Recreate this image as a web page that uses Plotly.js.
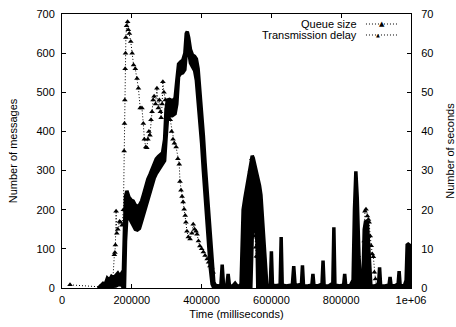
<!DOCTYPE html>
<html>
<head>
<meta charset="utf-8">
<script src="https://cdn.plot.ly/plotly-3.0.1.min.js"></script>
<style>html,body{margin:0;padding:0;background:#fff}#chart{width:456px;height:327px}</style>
</head>
<body>
<div id="chart"></div>
<script>
// X tick labels
const xTickVals = [0, 200000, 400000, 600000, 800000, 1000000];
const xTickText = ['0', '200000', '400000', '600000', '800000', '1e+06'];

// Queue size (messages): time (ms), lower and upper envelope of the dense band
const qT = [105000,112000,118000,124000,130000,136000,142000,148000,154000,160000,166000,171000,176000,179000,182000,186000,192000,198000,204000,210000,216000,222000,228000,234000,240000,246000,252000,258000,264000,270000,276000,282000,288000,294000,298000,302000,308000,316000,324000,329000,334000,340000,346000,352000,356000,359000,363000,368000,374000,380000,385000,390000,395000,400000,405000,410000,415000,420000,425000,430000,435000,440000,446000,455000,459000,463000,472000,476000,480000,490000,496000,502000,509000,513000,516000,519000,524000,530000,536000,541000,545000,548000,552000,556000,559000,561000,566000,570000,576000,582000,587000,592000,597000,600000,603000,612000,620000,625000,628000,631000,642000,652000,660000,664000,668000,680000,686000,689000,692000,705000,713000,716000,719000,722000,735000,742000,745000,748000,751000,764000,773000,776000,779000,782000,795000,804000,807000,810000,813000,826000,834000,838000,842000,846000,851000,856000,862000,866000,870000,875000,880000,885000,895000,903000,907000,910000,913000,926000,934000,937000,940000,943000,955000,960000,963000,966000,969000,981000,986000,989000,992000,995000,1000000];
const qLo = [0,0,0,0,3,3,5,5,5,8,8,8,0,0,120,185,180,170,160,150,148,152,170,188,205,228,245,262,280,292,300,305,315,325,380,430,440,440,445,470,540,548,550,558,600,630,605,575,565,555,530,480,430,370,300,230,170,100,50,10,0,0,0,0,0,0,0,0,0,0,0,0,0,0,0,0,0,0,0,0,130,155,160,150,110,0,0,0,0,0,0,0,0,0,0,0,0,0,0,0,0,0,0,0,0,0,0,0,0,0,0,0,0,0,0,0,0,0,0,0,0,0,0,0,0,0,0,0,0,0,0,0,0,0,0,0,0,0,0,0,0,0,0,0,0,0,0,0,0,0,0,0,0,0,0,0,0,0,0,0,0,0,0,0,0,0];
const qHi = [0,8,12,10,25,20,30,26,33,38,30,40,45,150,235,248,232,225,222,212,208,212,222,240,262,278,290,302,318,330,336,340,345,380,455,480,482,478,485,530,572,578,582,600,650,655,640,610,595,592,585,560,510,450,390,320,260,180,120,55,15,5,6,5,60,5,6,36,5,6,12,5,6,10,120,200,230,260,295,322,338,332,318,300,288,285,262,238,160,70,6,6,8,94,8,6,6,8,130,8,5,6,8,56,6,8,8,58,6,5,8,8,36,6,6,10,10,70,6,5,10,12,155,8,5,8,8,36,6,6,20,200,298,230,80,6,6,150,172,168,70,6,5,10,10,53,6,5,8,8,28,6,6,10,10,43,6,6,20,110,112,110,30];

// Transmission delay (seconds)
const dT = [23000,108000,130000,145000,150000,151500,153000,155000,157000,160000,165000,168000,172000,176000,178000,179000,180000,181000,182000,183000,185000,188000,190000,193000,197000,201000,205000,210000,215000,219000,224000,229000,233000,236000,240000,243000,246000,249000,252000,255000,258000,261000,264000,268000,272000,276000,279000,282000,284000,287000,289000,292000,296000,301000,305000,310000,314000,318000,322000,327000,332000,336000,338000,341000,344000,347000,350000,353000,355000,358000,362000,367000,372000,376000,380000,384000,387000,391000,395000,400000,405000,410000,416000,420000,424000,429000,433000,437000,441000,512000,520000,530000,540000,544000,547000,549000,551000,553000,555000,557000,560000,566000,572000,580000,585000,862000,866000,868000,871000,875000,878000,880000,883000,886000,889000,892000,895000,898000,902000,1000000];
const dV = [0.8,0.3,1,1,8.5,9.1,11,19.6,14,15,17,16.8,16,20,35,42,48,56,60,64,67,68,66,65,63,60,57,56,53.5,51,46,46,42,38,36,35.8,38,40,39,43,45,48,49,47,51,46,48,45,43.5,47,52.7,50,48,46,45.5,43,40,38,37,36,33,31.6,27.2,25,23.4,22,20.1,18.5,16.8,14.5,13,12.5,14,16.3,15,14.5,13.7,12,10.7,10,9.2,8.3,7.4,6.6,5.6,5.3,4,1,0.5,0.5,8,20,30,33,26,17,15,13.2,10.4,8.1,8,20,12,3,0.5,0.5,12,19.6,20.1,18.4,17.5,16.8,13.3,10.8,8.7,8,4,2.3,0.5,0.5];

const font = {family: 'Liberation Sans, Arial, sans-serif', size: 11, color: '#000'};

const traces = [
  {x: qT, y: qLo, type: 'scatter', mode: 'lines', line: {color: '#000', width: 3.5}, showlegend: false, hoverinfo: 'skip'},
  {x: qT, y: qHi, type: 'scatter', mode: 'lines', fill: 'tonexty', fillcolor: '#000', line: {color: '#000', width: 3.5}, name: 'Queue size', showlegend: false},
  {x: dT, y: dV, type: 'scatter', mode: 'lines+markers', yaxis: 'y2', line: {color: '#000', width: 1, dash: '1px,2px'}, marker: {symbol: 'triangle-up', size: 5, color: '#000'}, name: 'Transmission delay', showlegend: false}
];

const layout = {
  width: 456, height: 327,
  margin: {l: 62, r: 45, t: 14, b: 39, pad: 0},
  paper_bgcolor: '#fff', plot_bgcolor: '#fff',
  font: font,
  showlegend: false,
  xaxis: {
    range: [0, 1000000], tickvals: xTickVals, ticktext: xTickText,
    ticks: 'inside', ticklen: 4, tickcolor: '#000', showline: true, linecolor: '#000', linewidth: 1,
    mirror: 'ticks', showgrid: false, zeroline: false, tickfont: font, ticklabelstandoff: 2,
    title: {text: 'Time (milliseconds)', font: font, standoff: 5}
  },
  yaxis: {
    range: [0, 700], dtick: 100, ticks: 'inside', ticklen: 4, tickcolor: '#000',
    showline: true, linecolor: '#000', linewidth: 1, mirror: true, showgrid: false, zeroline: false,
    tickfont: font, ticklabelstandoff: 4,
    title: {text: 'Number of messages', font: font, standoff: 16}
  },
  yaxis2: {
    range: [0, 70], dtick: 10, overlaying: 'y', side: 'right', ticks: 'inside', ticklen: 4, tickcolor: '#000',
    showline: true, linecolor: '#000', linewidth: 1, showgrid: false, zeroline: false,
    tickfont: font, ticklabelstandoff: 7,
    title: {text: 'Number of seconds', font: font, standoff: 19}
  },
  annotations: [
    {xref: 'paper', yref: 'paper', x: 0.851, y: 0.9635, xanchor: 'right', yanchor: 'middle', text: 'Queue size', showarrow: false, font: font},
    {xref: 'paper', yref: 'paper', x: 0.851, y: 0.9234, xanchor: 'right', yanchor: 'middle', text: 'Transmission delay', showarrow: false, font: font},
    {xref: 'paper', yref: 'paper', x: 0.917, y: 0.9635, xanchor: 'center', yanchor: 'middle', text: '▲', showarrow: false, font: {family: 'DejaVu Sans', size: 7, color: '#000'}},
    {xref: 'paper', yref: 'paper', x: 0.905, y: 0.9234, xanchor: 'center', yanchor: 'middle', text: '▲', showarrow: false, font: {family: 'DejaVu Sans', size: 5, color: '#000'}}
  ],
  shapes: [
    {type: 'line', xref: 'paper', yref: 'paper', x0: 0.871, x1: 0.963, y0: 0.9635, y1: 0.9635, line: {color: '#000', width: 1, dash: '1px,2px'}},
    {type: 'line', xref: 'paper', yref: 'paper', x0: 0.871, x1: 0.963, y0: 0.9234, y1: 0.9234, line: {color: '#000', width: 1, dash: '1px,2px'}}
  ]
};

Plotly.newPlot('chart', traces, layout, {displayModeBar: false, staticPlot: true});
</script>
</body>
</html>
